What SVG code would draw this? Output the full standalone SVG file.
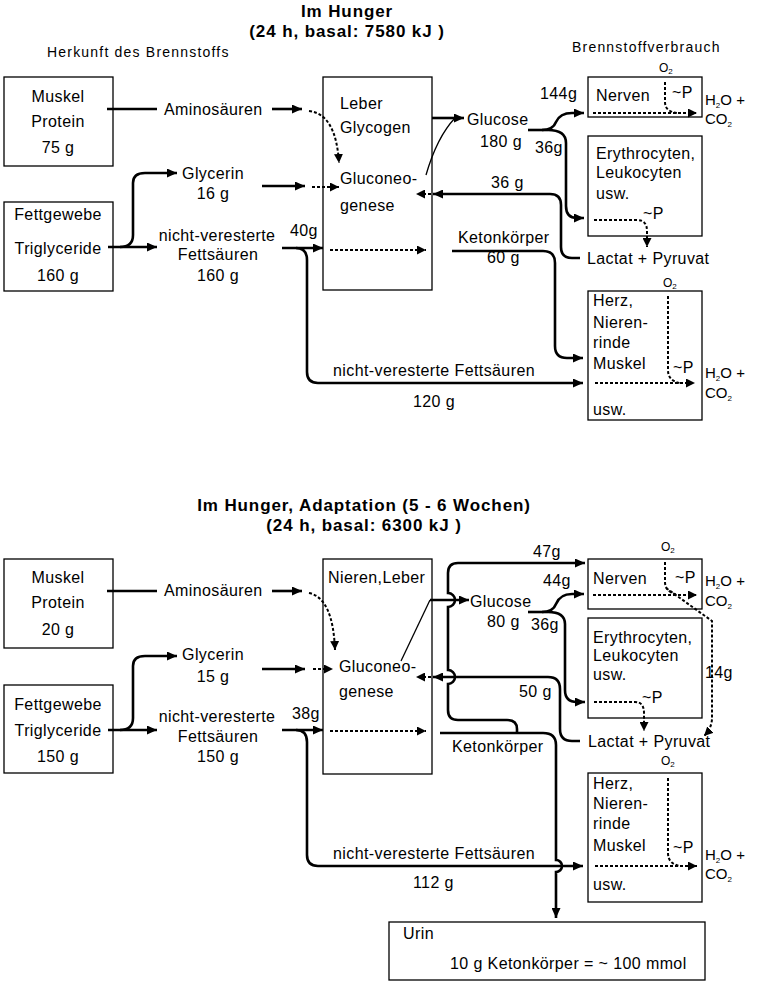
<svg xmlns="http://www.w3.org/2000/svg" width="757" height="990" viewBox="0 0 757 990">
<style>
.t{font-family:"Liberation Sans",Arial,sans-serif;font-size:16px;letter-spacing:0.4px;fill:#000}
.m{text-anchor:middle}
.s{font-family:"Liberation Sans",Arial,sans-serif;font-size:14px;letter-spacing:1.2px;fill:#000}
.h{font-family:"Liberation Sans",Arial,sans-serif;font-size:17px;font-weight:bold;letter-spacing:0.9px;text-anchor:middle;fill:#000}
.o{font-family:"Liberation Sans",Arial,sans-serif;font-size:15px;fill:#000}
.o2{font-family:"Liberation Sans",Arial,sans-serif;font-size:12px;fill:#000}
.sub{font-size:8px}
.box{fill:#fff;stroke:#000;stroke-width:1.3}
.c{fill:none;stroke:#000;stroke-width:2.6}
.d{fill:none;stroke:#000;stroke-width:2;stroke-dasharray:3 2}
.thin{fill:none;stroke:#000;stroke-width:1.3}
</style>
<defs>
<marker id="ah" markerUnits="userSpaceOnUse" markerWidth="11" markerHeight="9" refX="10" refY="4.5" orient="auto"><path d="M0,0 L10,4.5 L0,9 z" fill="#000"/></marker>
<marker id="dh" markerUnits="userSpaceOnUse" markerWidth="10" markerHeight="9" refX="9" refY="4.5" orient="auto"><path d="M0,0 L9,4.5 L0,9 z" fill="#000"/></marker>
</defs>
<rect width="757" height="990" fill="#fff"/>

<g id="titles">
<text class="h" x="347" y="17">Im Hunger</text>
<text class="h" x="347" y="37">(24 h, basal: 7580 kJ )</text>
<text class="s" x="47" y="57">Herkunft des Brennstoffs</text>
<text class="s" x="572" y="52">Brennstoffverbrauch</text>
<text class="h" x="364" y="511">Im Hunger, Adaptation (5 - 6 Wochen)</text>
<text class="h" x="364" y="531">(24 h, basal: 6300 kJ )</text>
</g>

<!-- TOP SECTION NODES -->
<g id="muskel1"><rect class="box" x="4" y="77" width="109" height="89"/>
<text class="t m" x="58" y="102">Muskel</text><text class="t m" x="58" y="127">Protein</text><text class="t m" x="58" y="153">75 g</text></g>
<g id="fett1"><rect class="box" x="4" y="202" width="109" height="89"/>
<text class="t m" x="58" y="220">Fettgewebe</text><text class="t m" x="58" y="254">Triglyceride</text><text class="t m" x="58" y="281">160 g</text></g>
<g id="leber1"><rect class="box" x="323" y="77" width="109" height="213"/>
<text class="t" x="340" y="109">Leber</text><text class="t" x="340" y="133">Glycogen</text>
<text class="t" x="340" y="184">Gluconeo-</text><text class="t" x="340" y="211">genese</text></g>
<g id="nerven1"><rect class="box" x="588" y="77" width="114" height="40"/>
<text class="t" x="596" y="101">Nerven</text><text class="t" x="672" y="98">~P</text></g>
<g id="ery1"><rect class="box" x="588" y="136" width="114" height="100"/>
<text class="t" x="596" y="159">Erythrocyten,</text><text class="t" x="596" y="178">Leukocyten</text><text class="t" x="596" y="199">usw.</text><text class="t" x="643" y="219">~P</text></g>
<g id="herz1"><rect class="box" x="588" y="291" width="114" height="129"/>
<text class="t" x="593" y="306">Herz,</text><text class="t" x="593" y="328">Nieren-</text><text class="t" x="593" y="348">rinde</text><text class="t" x="593" y="369">Muskel</text><text class="t" x="593" y="415">usw.</text><text class="t" x="673" y="373">~P</text></g>

<g id="labels1">
<text class="t" x="164" y="115">Aminosäuren</text>
<text class="t m" x="213" y="179">Glycerin</text><text class="t m" x="213" y="199">16 g</text>
<text class="t m" x="217" y="241">nicht-veresterte</text><text class="t m" x="218" y="260">Fettsäuren</text><text class="t m" x="218" y="281">160 g</text>
<text class="t" x="290" y="236">40g</text>
<text class="t" x="467" y="125">Glucose</text><text class="t" x="480" y="147">180 g</text>
<text class="t" x="540" y="99">144g</text>
<text class="t" x="535" y="153">36g</text>
<text class="t" x="491" y="188">36 g</text>
<text class="t" x="458" y="243">Ketonkörper</text><text class="t" x="487" y="263">60 g</text>
<text class="t" x="587" y="264">Lactat + Pyruvat</text>
<text class="t" x="333" y="376">nicht-veresterte Fettsäuren</text><text class="t" x="413" y="407">120 g</text>
<text class="o2" x="659" y="72">O<tspan class="sub" dy="2">2</tspan></text>
<text class="o" x="705" y="105">H<tspan class="sub" dy="3">2</tspan><tspan dy="-3">O +</tspan></text>
<text class="o" x="705" y="124">CO<tspan class="sub" dy="3">2</tspan></text>
<text class="o2" x="663" y="287">O<tspan class="sub" dy="2">2</tspan></text>
<text class="o" x="705" y="378">H<tspan class="sub" dy="3">2</tspan><tspan dy="-3">O +</tspan></text>
<text class="o" x="705" y="398">CO<tspan class="sub" dy="3">2</tspan></text>
</g>

<!-- BOTTOM SECTION NODES -->
<g id="muskel2"><rect class="box" x="4" y="559" width="109" height="89"/>
<text class="t m" x="58" y="583">Muskel</text><text class="t m" x="58" y="608">Protein</text><text class="t m" x="58" y="635">20 g</text></g>
<g id="fett2"><rect class="box" x="4" y="685" width="109" height="88"/>
<text class="t m" x="58" y="710">Fettgewebe</text><text class="t m" x="58" y="736">Triglyceride</text><text class="t m" x="58" y="762">150 g</text></g>
<g id="leber2"><rect class="box" x="323" y="559" width="109" height="215"/>
<text class="t" x="328" y="583">Nieren,Leber</text>
<text class="t" x="339" y="672">Gluconeo-</text><text class="t" x="339" y="697">genese</text></g>
<g id="nerven2"><rect class="box" x="588" y="559" width="114" height="50"/>
<text class="t" x="593" y="584">Nerven</text><text class="t" x="675" y="583">~P</text></g>
<g id="ery2"><rect class="box" x="588" y="618" width="114" height="100"/>
<text class="t" x="593" y="643">Erythrocyten,</text><text class="t" x="593" y="661">Leukocyten</text><text class="t" x="593" y="680">usw.</text><text class="t" x="642" y="703">~P</text></g>
<g id="herz2"><rect class="box" x="588" y="773" width="114" height="129"/>
<text class="t" x="593" y="789">Herz,</text><text class="t" x="593" y="809">Nieren-</text><text class="t" x="593" y="829">rinde</text><text class="t" x="593" y="851">Muskel</text><text class="t" x="593" y="890">usw.</text><text class="t" x="673" y="853">~P</text></g>
<g id="urin"><rect class="box" x="389" y="922" width="316" height="58"/>
<text class="t" x="403" y="939">Urin</text><text class="t" x="450" y="969">10 g Ketonkörper = ~ 100 mmol</text></g>

<g id="labels2">
<text class="t" x="164" y="596">Aminosäuren</text>
<text class="t m" x="213" y="660">Glycerin</text><text class="t m" x="213" y="682">15 g</text>
<text class="t m" x="217" y="722">nicht-veresterte</text><text class="t m" x="218" y="742">Fettsäuren</text><text class="t m" x="218" y="762">150 g</text>
<text class="t" x="292" y="719">38g</text>
<text class="t" x="470" y="607">Glucose</text><text class="t" x="487" y="627">80 g</text>
<text class="t" x="533" y="557">47g</text>
<text class="t" x="543" y="586">44g</text>
<text class="t" x="531" y="630">36g</text>
<text class="t" x="519" y="697">50 g</text>
<text class="t" x="452" y="752">Ketonkörper</text>
<text class="t" x="588" y="747">Lactat + Pyruvat</text>
<text class="t" x="705" y="678">14g</text>
<text class="t" x="333" y="859">nicht-veresterte Fettsäuren</text><text class="t" x="413" y="888">112 g</text>
<text class="o2" x="661" y="551">O<tspan class="sub" dy="2">2</tspan></text>
<text class="o" x="705" y="586">H<tspan class="sub" dy="3">2</tspan><tspan dy="-3">O +</tspan></text>
<text class="o" x="705" y="606">CO<tspan class="sub" dy="3">2</tspan></text>
<text class="o2" x="661" y="765">O<tspan class="sub" dy="2">2</tspan></text>
<text class="o" x="705" y="860">H<tspan class="sub" dy="3">2</tspan><tspan dy="-3">O +</tspan></text>
<text class="o" x="705" y="879">CO<tspan class="sub" dy="3">2</tspan></text>
</g>

<g id="connectors">
<!-- top -->
<path class="c" d="M107,109 H157"/>
<path class="c" d="M272,109 H302" marker-end="url(#ah)"/>
<path class="d" d="M309,111 Q336,114 339,163" marker-end="url(#dh)"/>
<path class="c" d="M108,247 H157" marker-end="url(#ah)"/>
<path class="c" d="M120,247 Q133,247 133,235 V183 Q133,173 145,173 H177" marker-end="url(#ah)"/>
<path class="c" d="M262,186 H305" marker-end="url(#ah)"/>
<path class="d" d="M312,187 H339" marker-end="url(#dh)"/>
<path class="c" d="M282,248 H323" marker-end="url(#ah)"/>
<path class="c" d="M296,248 Q307,248 307,260 V372 Q307,383 318,383 H583" marker-end="url(#ah)"/>
<path class="d" d="M330,250 H426" marker-end="url(#dh)"/>
<path class="c" d="M432,118 H464" marker-end="url(#ah)"/>
<path class="thin" d="M426,175 Q437,137 455,118"/>
<path class="c" d="M528,130 H548"/>
<path class="c" d="M542,130 Q553,130 556,122 Q560,113 572,113 H584" marker-end="url(#ah)"/>
<path class="c" d="M548,130 Q566,130 566,143 V206 Q566,218 577,218 H584" marker-end="url(#ah)"/>
<path class="c" d="M580,258 H572 Q561,258 561,247 V205 Q561,194 550,194 H433" marker-end="url(#ah)"/>
<path class="d" d="M431,194 H416" marker-end="url(#dh)"/>
<path class="c" d="M452,251 H543 Q555,251 555,263 V346 Q555,358 567,358 H583" marker-end="url(#ah)"/>
<path class="d" d="M593,113 H697" marker-end="url(#dh)"/>
<path class="d" d="M665,82 V102 Q665,112 678,113"/>
<path class="d" d="M594,220 H637 Q647,220 647,231 V247" marker-end="url(#dh)"/>
<path class="d" d="M595,383 H695" marker-end="url(#dh)"/>
<path class="d" d="M668,296 V370 Q668,381 680,383"/>
<!-- bottom -->
<path class="c" d="M107,591 H157"/>
<path class="c" d="M272,591 H302" marker-end="url(#ah)"/>
<path class="d" d="M309,593 Q333,598 335,650" marker-end="url(#dh)"/>
<path class="c" d="M108,730 H157" marker-end="url(#ah)"/>
<path class="c" d="M120,730 Q133,730 133,718 V666 Q133,656 145,656 H177" marker-end="url(#ah)"/>
<path class="c" d="M262,669 H305" marker-end="url(#ah)"/>
<path class="d" d="M313,669 H333" marker-end="url(#dh)"/>
<path class="c" d="M282,730 H323" marker-end="url(#ah)"/>
<path class="c" d="M296,730 Q307,730 307,742 V855 Q307,866 318,866 H583" marker-end="url(#ah)"/>
<path class="d" d="M330,731 H426" marker-end="url(#dh)"/>
<path class="thin" d="M401,661 L430,600"/>
<path class="c" d="M430,600 H469" marker-end="url(#ah)"/>
<path class="c" d="M528,612 H548"/>
<path class="c" d="M542,612 Q553,612 556,604 Q560,594 572,594 H584" marker-end="url(#ah)"/>
<path class="c" d="M548,612 Q565,612 565,624 V690 Q565,702 577,702 H585" marker-end="url(#ah)"/>
<path class="c" d="M440,733 H543 Q556,733 556,745 V860 A6,6 0 0 1 556,872 V918" marker-end="url(#ah)"/>
<path class="c" d="M517,733 V729 Q517,720 507,720 H458 Q448,720 448,710 V684 A7,7 0 0 0 448,670 V607 A7,7 0 0 0 448,593 V573 Q448,563 458,563 H585" marker-end="url(#ah)"/>
<path class="c" d="M580,741 H572 Q560,741 560,729 V689 Q560,677 548,677 H433" marker-end="url(#ah)"/>
<path class="d" d="M431,677 H416" marker-end="url(#dh)"/>
<path class="d" d="M593,595 H697" marker-end="url(#dh)"/>
<path class="d" d="M665,562 V582 Q665,592 678,595"/>
<path class="d" d="M666,588 L712,621 V718 Q712,728 704,736" marker-end="url(#dh)"/>
<path class="d" d="M594,702 H635 Q644,702 644,713 V731" marker-end="url(#dh)"/>
<path class="d" d="M595,866 H697" marker-end="url(#dh)"/>
<path class="d" d="M668,778 V853 Q668,864 680,866"/>
</g>
</svg>
